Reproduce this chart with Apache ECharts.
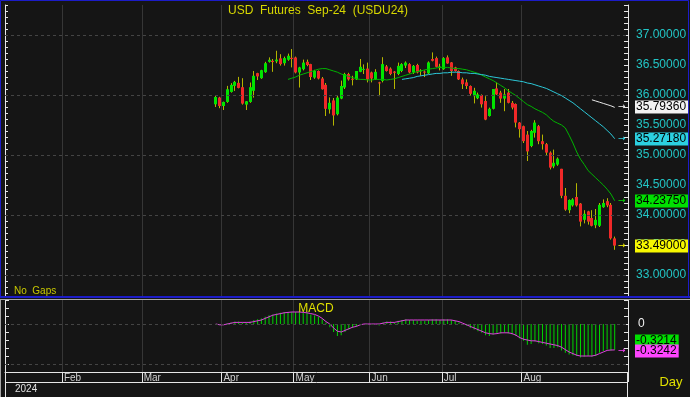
<!DOCTYPE html>
<html><head><meta charset="utf-8">
<script src="https://cdn.jsdelivr.net/npm/echarts/dist/echarts.min.js"></script>
<style>html,body{margin:0;padding:0;background:#151515;overflow:hidden}#chart{width:690px;height:397px}</style>
</head><body><div id="chart"></div>
<script>
// ---------- data ----------
const titleText = 'USD  Futures  Sep-24  (USDU24)';
const monthLabels = ['Feb','Mar','Apr','May','Jun','Jul','Aug'];
const monthSlots = [15,36,57,76,96,115,136];
const yearLabel = '2024';
const slotCount = 164;
const firstBarSlot = 55;

const open = [35.845,35.957,35.817,35.884,36.051,36.152,36.202,36.13,35.84,35.884,
36.07,36.364,36.28,36.38,36.553,36.57,36.56,36.61,36.53,36.587,
36.62,36.625,36.376,36.43,36.553,36.515,36.29,36.40,36.275,36.17,
35.76,35.91,35.68,35.94,36.125,36.35,36.27,36.26,36.386,36.43,
36.44,36.376,36.26,36.21,36.235,36.476,36.44,36.39,36.35,36.40,
36.49,36.515,36.376,36.50,36.40,36.39,36.36,36.60,36.615,36.47,
36.43,36.627,36.543,36.46,36.40,36.26,36.21,36.15,35.98,35.945,
36.0,35.90,35.65,35.77,36.11,36.04,35.94,36.04,35.87,35.85,
35.54,35.48,35.34,35.15,35.37,35.48,35.23,35.18,35.04,34.81,
34.84,34.77,34.32,34.08,34.16,34.30,34.19,33.92,34.06,33.95,
33.83,33.82,34.13,34.23,34.17,33.61];
const high = [35.985,35.97,35.89,36.152,36.197,36.235,36.302,36.28,35.90,36.208,
36.40,36.37,36.42,36.553,36.627,36.60,36.737,36.68,36.64,36.69,
36.766,36.64,36.47,36.59,36.59,36.52,36.42,36.41,36.30,36.20,
35.96,35.95,36.00,36.24,36.37,36.37,36.32,36.40,36.60,36.51,
36.54,36.39,36.43,36.22,36.63,36.50,36.46,36.40,36.54,36.53,
36.56,36.53,36.50,36.52,36.43,36.41,36.56,36.71,36.64,36.52,
36.63,36.66,36.55,36.47,36.41,36.29,36.26,36.16,36.12,36.04,
36.01,35.98,35.79,36.10,36.21,36.07,36.10,36.10,35.90,35.86,
35.55,35.49,35.40,35.42,35.58,35.50,35.34,35.20,35.06,35.09,
34.96,34.77,34.45,34.26,34.28,34.53,34.20,34.08,34.07,34.08,
34.10,34.20,34.26,34.28,34.20,33.64];
const low = [35.80,35.78,35.75,35.87,36.04,36.068,36.11,35.84,35.75,35.87,
35.957,36.25,36.27,36.37,36.54,36.386,36.53,36.49,36.49,36.57,
36.46,36.36,36.125,36.41,36.48,36.25,36.27,36.26,36.09,35.65,
35.69,35.49,35.66,35.93,36.10,36.24,36.16,36.25,36.38,36.35,
36.21,36.21,36.25,35.98,36.21,36.39,36.33,36.10,36.33,36.38,
36.45,36.36,36.35,36.36,36.32,36.30,36.35,36.56,36.46,36.41,
36.42,36.52,36.32,36.39,36.25,36.10,36.10,35.99,35.86,35.93,
35.79,35.58,35.64,35.76,36.0,35.87,35.73,35.86,35.76,35.46,
35.29,35.20,34.90,35.13,35.29,35.18,35.09,35.00,34.76,34.78,
34.82,34.28,34.07,34.03,34.14,34.14,33.81,33.86,33.84,33.81,
33.78,33.80,34.12,34.13,33.59,33.42];
const close = [35.967,35.817,35.884,36.096,36.168,36.219,36.118,35.857,35.895,36.13,
36.32,36.31,36.414,36.53,36.587,36.55,36.59,36.515,36.615,36.654,
36.60,36.376,36.46,36.54,36.50,36.30,36.40,36.275,36.096,35.77,
35.87,35.66,35.957,36.15,36.35,36.26,36.26,36.40,36.47,36.435,
36.26,36.275,36.386,36.20,36.515,36.40,36.35,36.37,36.486,36.515,
36.54,36.376,36.486,36.376,36.41,36.38,36.543,36.57,36.47,36.475,
36.615,36.526,36.40,36.40,36.26,36.18,36.15,36.02,36.07,36.01,
35.845,35.59,35.77,36.10,36.01,35.94,36.01,35.87,35.79,35.54,
35.43,35.23,35.06,35.40,35.54,35.23,35.18,35.04,34.79,34.87,
34.94,34.32,34.09,34.25,34.26,34.16,33.89,34.02,33.89,33.82,
33.92,34.17,34.20,34.16,33.61,33.49];

const ma20Start = 19;
const ma20 = [36.26,36.28,36.30,36.33,36.35,36.37,36.39,36.41,36.43,36.44,
36.44,36.42,36.40,36.38,36.35,36.33,36.31,36.29,36.27,36.26,
36.26,36.25,36.25,36.26,36.26,36.26,36.25,36.26,36.27,36.29,
36.31,36.33,36.35,36.37,36.39,36.40,36.42,36.43,36.44,36.45,
36.46,36.46,36.46,36.45,36.44,36.44,36.43,36.42,36.40,36.38,
36.36,36.33,36.30,36.27,36.24,36.20,36.16,36.12,36.07,36.03,
35.99,35.94,35.89,35.84,35.81,35.77,35.74,35.71,35.67,35.61,
35.56,35.53,35.50,35.45,35.33,35.20,35.05,34.93,34.84,34.74,
34.68,34.62,34.56,34.50,34.43,34.35,34.2375];
const ma50Start = 49;
const ma50 = [36.26,36.27,36.28,36.29,36.31,36.32,36.33,36.34,36.35,36.36,
36.36,36.37,36.37,36.38,36.38,36.38,36.37,36.37,36.36,36.36,
36.35,36.34,36.33,36.31,36.30,36.29,36.28,36.27,36.26,36.25,
36.24,36.23,36.22,36.20,36.19,36.17,36.15,36.13,36.11,36.08,
36.05,36.02,35.99,35.95,35.91,35.87,35.82,35.77,35.72,35.67,
35.62,35.57,35.52,35.47,35.41,35.35,35.2718];
const ma100Start = 99;
const ma100 = [35.92,35.90,35.88,35.86,35.84,35.82,35.7936];

const macdHist = [0.00,-0.01,0.00,0.01,0.02, 0.03,0.03,0.02,0.02,0.03,
0.05,0.06,0.07,0.09,0.11, 0.12,0.13,0.14,0.15,0.15,
0.15,0.15,0.15,0.14,0.14, 0.12,0.11,0.09,0.06,0.02,
-0.04,-0.10,-0.15,-0.14,-0.10, -0.07,-0.05,-0.03,-0.01,0.00,
0.00,-0.01,0.00,-0.02,0.02, 0.03,0.03,0.02,0.04,0.05,
0.06,0.05,0.05,0.04,0.04, 0.04,0.05,0.06,0.06,0.05,
0.06,0.06,0.05,0.04,0.02, 0.00,-0.02,-0.05,-0.07,-0.09,
-0.11,-0.14,-0.15,-0.13,-0.12, -0.12,-0.11,-0.12,-0.13,-0.15,
-0.18,-0.21,-0.26,-0.25,-0.22, -0.24,-0.25,-0.27,-0.30,-0.30,
-0.29,-0.33,-0.36,-0.38,-0.39, -0.40,-0.42,-0.41,-0.40,-0.41,
-0.40,-0.36,-0.34,-0.32,-0.33, -0.3214];
const macdSignal = [0.00,-0.01,-0.01,0.00,0.01, 0.02,0.02,0.02,0.02,0.02,
0.03,0.04,0.05,0.07,0.09, 0.11,0.12,0.13,0.14,0.145,
0.15,0.15,0.15,0.145,0.14, 0.13,0.12,0.10,0.07,0.03,
0.00,-0.05,-0.09,-0.10,-0.08, -0.06,-0.04,-0.03,-0.01,0.00,
0.00,0.00,0.00,0.00,0.01, 0.02,0.02,0.02,0.03,0.04,
0.05,0.05,0.05,0.05,0.05, 0.05,0.05,0.05,0.05,0.05,
0.05,0.05,0.05,0.04,0.03, 0.01,-0.01,-0.03,-0.05,-0.07,
-0.09,-0.11,-0.12,-0.125,-0.12, -0.11,-0.11,-0.11,-0.12,-0.14,
-0.17,-0.19,-0.20,-0.21,-0.21, -0.22,-0.23,-0.24,-0.25,-0.26,
-0.27,-0.29,-0.32,-0.35,-0.37, -0.39,-0.40,-0.40,-0.40,-0.40,
-0.39,-0.37,-0.35,-0.33,-0.325, -0.3242];

const priceGridLines = [33,34,35,36,37];
const macdGridLines = [0,-0.5];

// ---------- build ----------
const slots = Array.from({length: slotCount}, (_, k) => 'd' + k);
const candleData = open.map((o, i) => [firstBarSlot + i, o, close[i], low[i], high[i]]);
const lineData = (arr, start) => arr.map((v, i) => [firstBarSlot + start + i, v]);
const barsData = macdHist.map((v, i) => [firstBarSlot + i, v]);
const signalData = macdSignal.map((v, i) => [firstBarSlot + i, v]);

const FONT = 'Liberation Sans, Arial, sans-serif';
const BG = '#151515';
const monthFn = (idx) => monthSlots.indexOf(idx) >= 0;
const monthFmt = (val, idx) => { const m = monthSlots.indexOf(idx); return m >= 0 ? monthLabels[m] : ''; };
const isHalf = v => Math.abs(v * 2 - Math.round(v * 2)) < 1e-6;
const priceFmt = v => (isHalf(v) && v < 37.4) ? v.toFixed(5) : '';
const macdFmt = v => Math.abs(v) < 1e-6 ? '0' : '';

function renderCandle(params, api) {
  const x = api.value(0), o = api.value(1), c = api.value(2), l = api.value(3), h = api.value(4);
  const pO = api.coord([x, o]), pC = api.coord([x, c]), pL = api.coord([x, l]), pH = api.coord([x, h]);
  const col = Math.floor(pO[0]);
  const top = Math.min(pO[1], pC[1]);
  const hgt = Math.max(1, Math.abs(pO[1] - pC[1]));
  const up = c >= o;
  return {type: 'group', children: [
    {type: 'line', shape: {x1: col + 0.5, y1: pH[1], x2: col + 0.5, y2: pL[1]}, style: {stroke: '#b4b400', lineWidth: 1}},
    {type: 'rect', shape: {x: col - 1, y: top, width: 3, height: hgt}, style: {fill: up ? '#00e400' : '#f02828'}}
  ]};
}

const axisWhite = '#e6e6e6';
const option = {
  backgroundColor: BG,
  animation: false,
  textStyle: {fontFamily: FONT},
  grid: [
    {left: 5, right: 62, top: 5, height: 294, containLabel: false},
    {left: 5, right: 62, top: 300, height: 72, containLabel: false}
  ],
  xAxis: [
    {type: 'category', gridIndex: 0, data: slots, boundaryGap: true,
     axisLine: {show: false, onZero: false}, axisTick: {show: false}, axisLabel: {show: false},
     splitLine: {show: true, interval: monthFn, lineStyle: {color: '#363636', width: 1}}},
    {type: 'category', gridIndex: 1, data: slots, boundaryGap: true,
     axisLine: {show: true, onZero: false, lineStyle: {color: axisWhite, width: 1}},
     axisTick: {show: true, interval: monthFn, length: 10, lineStyle: {color: axisWhite}},
     axisLabel: {show: true, interval: monthFn, formatter: monthFmt, color: '#d0d0d0', fontSize: 10,
                 align: 'left', verticalAlign: 'top', margin: 1, fontFamily: FONT},
     splitLine: {show: true, interval: monthFn, lineStyle: {color: '#363636', width: 1}}}
  ],
  yAxis: [
    {type: 'value', gridIndex: 0, position: 'right', min: 32.6, max: 37.5, interval: 0.1,
     axisLine: {show: true, lineStyle: {color: axisWhite}},
     axisTick: {show: true, inside: true, length: 4, lineStyle: {color: axisWhite}},
     axisLabel: {show: true, formatter: priceFmt, color: '#22c6c6', fontSize: 12, margin: 8, fontFamily: FONT},
     splitLine: {show: false}},
    {type: 'value', gridIndex: 0, position: 'left', min: 32.6, max: 37.5, interval: 0.1,
     axisLine: {show: true, lineStyle: {color: axisWhite}},
     axisTick: {show: true, inside: true, length: 3, lineStyle: {color: axisWhite}},
     axisLabel: {show: false}, splitLine: {show: false}},
    {type: 'value', gridIndex: 1, position: 'right', min: -0.6, max: 0.3, interval: 0.1,
     axisLine: {show: true, lineStyle: {color: axisWhite}},
     axisTick: {show: true, inside: true, length: 4, lineStyle: {color: axisWhite}},
     axisLabel: {show: true, formatter: macdFmt, color: '#f0f0f0', fontSize: 12, margin: 10, fontFamily: FONT},
     splitLine: {show: false}},
    {type: 'value', gridIndex: 1, position: 'left', min: -0.6, max: 0.3, interval: 0.1,
     axisLine: {show: true, lineStyle: {color: axisWhite}},
     axisTick: {show: true, inside: true, length: 4, lineStyle: {color: axisWhite}},
     axisLabel: {show: false}, splitLine: {show: false}}
  ],
  series: [
    {type: 'custom', name: 'USDU24', xAxisIndex: 0, yAxisIndex: 0, data: candleData,
     renderItem: renderCandle, encode: {x: 0, y: [1, 2, 3, 4]}, z: 3, silent: true},
    {type: 'line', name: 'MA20', xAxisIndex: 0, yAxisIndex: 0, data: lineData(ma20, ma20Start),
     symbol: 'none', lineStyle: {color: '#00b400', width: 1}, z: 4, silent: true},
    {type: 'line', name: 'MA50', xAxisIndex: 0, yAxisIndex: 0, data: lineData(ma50, ma50Start),
     symbol: 'none', lineStyle: {color: '#2cc8d8', width: 1}, z: 4, silent: true},
    {type: 'line', name: 'MA100', xAxisIndex: 0, yAxisIndex: 0, data: lineData(ma100, ma100Start),
     symbol: 'none', lineStyle: {color: '#e8e8e8', width: 1}, z: 1, silent: true,
     markLine: {silent: true, symbol: 'none', label: {show: false}, animation: false,
       lineStyle: {color: '#444444', type: [3, 3], width: 1},
       data: priceGridLines.map(v => ({yAxis: v}))}},
    {type: 'bar', name: 'MACD', xAxisIndex: 1, yAxisIndex: 2, data: barsData, barWidth: 1,
     itemStyle: {color: '#00d400'}, z: 3, silent: true},
    {type: 'line', name: 'Signal', xAxisIndex: 1, yAxisIndex: 2, data: signalData,
     symbol: 'none', lineStyle: {color: '#e040e0', width: 1}, z: 4, silent: true,
     markLine: {silent: true, symbol: 'none', label: {show: false}, animation: false,
       lineStyle: {color: '#444444', type: [3, 3], width: 1},
       data: macdGridLines.map(v => ({yAxis: v}))}}
  ]
};

const chart = echarts.init(document.getElementById('chart'), null, {renderer: 'canvas'});
chart.setOption(option);

// ---------- value tags and decorations ----------
const lastSlot = firstBarSlot + close.length - 1;
const yPix = (seriesIndex, v) => chart.convertToPixel({seriesIndex: seriesIndex}, [lastSlot, v])[1];
const tags = [
  {s: 3, v: ma100[ma100.length - 1], bg: '#f2f2f2', arrow: '#f2f2f2', d: 5, dy: 0},
  {s: 2, v: ma50[ma50.length - 1], bg: '#2cd0e0', arrow: '#2cd0e0', d: 5, dy: 0},
  {s: 1, v: ma20[ma20.length - 1], bg: '#00e000', arrow: '#00e000', d: 5, dy: 0},
  {s: 1, v: close[close.length - 1], bg: '#f8f800', arrow: '#f8f800', d: 5, dy: 0},
  {s: 5, v: macdHist[macdHist.length - 1], bg: '#00e000', arrow: null, d: 4, dy: -9},
  {s: 5, v: macdSignal[macdSignal.length - 1], bg: '#ff44ff', arrow: '#ff44ff', d: 4, dy: 1}
];
const g = [];
// separator between panels
g.push({type: 'rect', z: 50, shape: {x: 0, y: 296, width: 690, height: 4}, style: {fill: BG}});
g.push({type: 'rect', z: 51, shape: {x: 0, y: 296, width: 690, height: 2}, style: {fill: '#1c1cc8'}});
g.push({type: 'rect', z: 51, shape: {x: 0, y: 299, width: 690, height: 1}, style: {fill: '#a8a8a8'}});
// outer frame of price panel
g.push({type: 'rect', z: 51, shape: {x: 0.5, y: 0.5, width: 688, height: 296}, style: {fill: null, stroke: '#1c1cc8', lineWidth: 1}});
// date band lines
g.push({type: 'line', z: 51, shape: {x1: 5, y1: 382.5, x2: 628, y2: 382.5}, style: {stroke: axisWhite, lineWidth: 1}});
g.push({type: 'line', z: 51, shape: {x1: 627.5, y1: 372, x2: 627.5, y2: 397}, style: {stroke: axisWhite, lineWidth: 1}});
g.push({type: 'line', z: 51, shape: {x1: 5.5, y1: 372, x2: 5.5, y2: 397}, style: {stroke: axisWhite, lineWidth: 1}});
g.push({type: 'line', z: 51, shape: {x1: 0.5, y1: 300, x2: 0.5, y2: 397}, style: {stroke: '#a8a8a8', lineWidth: 1}});
// texts
g.push({type: 'text', z: 60, x: 318, y: 11, style: {text: titleText, fill: '#d8d800', font: '12px ' + FONT, align: 'center', verticalAlign: 'middle'}});
g.push({type: 'text', z: 60, x: 14, y: 291, style: {text: 'No  Gaps', fill: '#c8c800', font: '10px ' + FONT, align: 'left', verticalAlign: 'middle'}});
g.push({type: 'text', z: 60, x: 316, y: 309, style: {text: 'MACD', fill: '#e0e000', font: '12px ' + FONT, align: 'center', verticalAlign: 'middle'}});
g.push({type: 'text', z: 60, x: 15, y: 389, style: {text: yearLabel, fill: '#e0e0e0', font: '10px ' + FONT, align: 'left', verticalAlign: 'middle'}});
g.push({type: 'text', z: 60, x: 671, y: 382, style: {text: 'Day', fill: '#e0e000', font: '13px ' + FONT, align: 'center', verticalAlign: 'middle'}});
tags.forEach(t => {
  const py = Math.round(yPix(t.s, t.v));
  if (t.arrow) {
    g.push({type: 'text', z: 60, x: 618, y: py + t.dy, style: {text: '\u2192', fill: t.arrow, font: '9px DejaVu Sans', align: 'left', verticalAlign: 'middle'}});
  }
  g.push({type: 'text', z: 60, x: 635, y: py + t.dy, style: {text: t.v.toFixed(t.d), fill: '#000000', backgroundColor: t.bg,
    padding: [1, 2, 0, 1], font: '12px ' + FONT, align: 'left', verticalAlign: 'middle'}});
});
chart.setOption({graphic: {elements: g}});
</script>
</body></html>
